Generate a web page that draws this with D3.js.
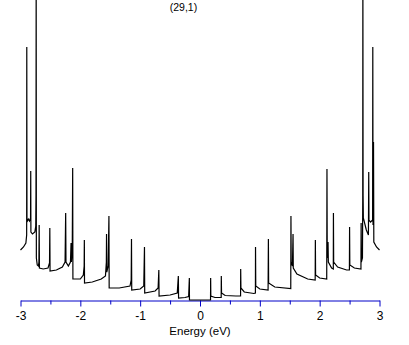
<!DOCTYPE html>
<html>
<head>
<meta charset="utf-8">
<script src="https://cdn.jsdelivr.net/npm/d3@7"></script>
<style>
  body { margin: 0; background: #fff; }
  svg { display: block; }
  text { font-family: "Liberation Sans", Arial, sans-serif; }
</style>
</head>
<body>
<div id="chart"></div>
<script>

const title = "(29,1)";
const xLabel = "Energy (eV)";

const majorTicks = [-3, -2, -1, 0, 1, 2, 3];
const minorTicks = [-2.5, -1.5, -0.5, 0.5, 1.5, 2.5];

// density of states, arbitrary units
const energy = [
    -3.00, -2.95, -2.91, -2.897, -2.895, -2.892, -2.87, -2.85, -2.832, -2.829,
    -2.826, -2.80, -2.76, -2.745, -2.741, -2.738, -2.735, -2.72, -2.70, -2.692,
    -2.688, -2.684, -2.62, -2.54, -2.515, -2.51, -2.506, -2.40, -2.30, -2.255,
    -2.245, -2.24, -2.20, -2.165, -2.155, -2.15, -2.135, -2.128, -2.124, -2.00,
    -1.95, -1.936, -1.933, -1.93, -1.80, -1.65, -1.58, -1.565, -1.562, -1.558,
    -1.535, -1.522, -1.518, -1.35, -1.17, -1.15, -1.145, -1.141, -1.00, -0.94,
    -0.928, -0.924, -0.75, -0.70, -0.688, -0.684, -0.50, -0.38, -0.362, -0.358,
    -0.25, -0.19, -0.178, -0.176,
    0.176, 0.178, 0.181, 0.25, 0.354, 0.356, 0.36, 0.42, 0.60, 0.678,
    0.68, 0.684, 0.74, 0.90, 0.926, 0.928, 0.932, 1.00, 1.138, 1.143,
    1.147, 1.25, 1.517, 1.52, 1.524, 1.545, 1.555, 1.559, 1.62, 1.80,
    1.925, 1.928, 1.932, 2.00, 2.118, 2.122, 2.126, 2.135, 2.14, 2.145,
    2.20, 2.228, 2.23, 2.234, 2.30, 2.45, 2.497, 2.50, 2.504, 2.58,
    2.69, 2.693, 2.697, 2.715, 2.72, 2.722, 2.726, 2.73, 2.78, 2.815,
    2.82, 2.824, 2.85, 2.885, 2.888, 2.892, 2.90, 2.905, 2.95, 3.00
];

const dos = [
    5.0, 5.3, 5.7, 6.5, 25.3, 7.8, 8.1, 7.9, 8.2, 12.9,
    6.8, 6.6, 6.8, 7.4, 10.5, 34.0, 4.2, 3.5, 3.4, 3.8,
    7.5, 3.2, 3.1, 3.2, 3.7, 7.2, 2.9, 3.0, 3.3, 3.8,
    8.7, 3.8, 3.4, 3.8, 5.7, 3.8, 5.0, 13.2, 2.1, 2.1,
    2.5, 3.4, 6.0, 1.7, 1.8, 2.1, 2.4, 3.8, 6.6, 2.8,
    3.4, 8.4, 1.2, 1.2, 1.4, 2.0, 6.1, 1.0, 1.1, 1.4,
    5.3, 0.7, 0.9, 1.2, 3.0, 0.4, 0.5, 0.7, 2.4, 0.2,
    0.25, 0.35, 2.2, 0,
    0, 2.2, 0.4, 0.25, 0.25, 2.4, 0.7, 0.45, 0.4, 0.4,
    3.1, 1.2, 0.8, 0.65, 0.7, 5.3, 1.4, 1.1, 1.0, 6.1,
    1.7, 1.3, 1.15, 8.4, 3.8, 3.4, 6.6, 3.2, 2.6, 2.1,
    2.0, 6.0, 2.5, 2.2, 2.1, 13.1, 5.5, 4.2, 5.8, 3.8,
    3.2, 3.1, 8.7, 3.8, 3.3, 3.0, 3.0, 7.3, 3.5, 3.2,
    3.1, 7.7, 3.8, 4.2, 10.0, 34.0, 10.4, 8.2, 7.0, 6.5,
    12.8, 8.0, 7.8, 8.0, 25.3, 7.5, 15.8, 5.8, 5.3, 5.0
];

const width = 409, height = 345;
const axisY = 300;

const svg = d3.select("#chart").append("svg")
    .attr("width", width)
    .attr("height", height);

const x = d3.scaleLinear().domain([-3, 3]).range([20.5, 379.5]);
const y = d3.scaleLinear().domain([0, 30]).range([axisY, 0]);

svg.append("clipPath")
    .attr("id", "plot-clip")
    .append("rect")
    .attr("x", 0).attr("y", 0)
    .attr("width", width).attr("height", axisY + 2);

// Axis

const minorAxis = d3.axisBottom(x)
    .tickValues(minorTicks)
    .tickSize(4)
    .tickSizeOuter(0)
    .tickFormat("");

const majorAxis = d3.axisBottom(x)
    .tickValues(majorTicks)
    .tickSize(6)
    .tickSizeOuter(0)
    .tickPadding(5)
    .tickFormat(d => d < 0 ? "-" + Math.abs(d) : String(d));

const gMinor = svg.append("g")
    .attr("transform", `translate(0,${axisY + 0.5})`)
    .call(minorAxis);
gMinor.select(".domain").remove();
gMinor.selectAll("line").attr("stroke", "#0000c8");

const gAxis = svg.append("g")
    .attr("transform", `translate(0,${axisY + 0.5})`)
    .call(majorAxis);
gAxis.select(".domain").attr("stroke", "#0000c8");
gAxis.selectAll("line").attr("stroke", "#0000c8");
gAxis.selectAll("text")
    .attr("fill", "#000")
    .style("font-size", "12px");

svg.append("text")
    .attr("x", 200)
    .attr("y", 335)
    .attr("text-anchor", "middle")
    .style("font-size", "11.5px")
    .text(xLabel);

svg.append("text")
    .attr("x", 183.5)
    .attr("y", 11)
    .attr("text-anchor", "middle")
    .style("font-size", "10.5px")
    .text(title);

// Curve

const points = energy.map((e, i) => [e, dos[i]]);

const line = d3.line()
    .x(d => x(d[0]))
    .y(d => y(d[1]));

svg.append("path")
    .datum(points)
    .attr("clip-path", "url(#plot-clip)")
    .attr("fill", "none")
    .attr("stroke", "#000")
    .attr("stroke-width", 1.2)
    .attr("stroke-linejoin", "miter")
    .attr("d", line);

</script>
</body>
</html>
